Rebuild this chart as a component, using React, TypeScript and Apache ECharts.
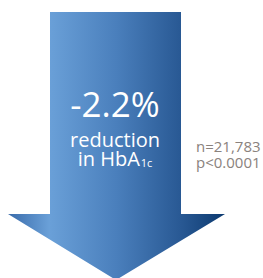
import React, { useEffect, useRef } from "react";
import * as echarts from "echarts";

const headline: string[] = ["-2.2%"];
const captionLines: string[] = ["reduction", "in HbA"];
const subscript: string[] = ["1c"];
const statLines: string[] = ["n=21,783", "p<0.0001"];

export default function App() {
  const ref = useRef<HTMLDivElement>(null);
  useEffect(() => {
    if (!ref.current) return;
    const chart = echarts.init(ref.current, null, { renderer: "svg" });
    const font = "'Open Sans', 'Noto Sans', sans-serif";
    chart.setOption({
      animation: false,
      backgroundColor: "#ffffff",
      graphic: [
        {
          type: "polygon",
          shape: {
            points: [
              [50, 12],
              [181, 12],
              [181, 214],
              [225, 214],
              [116, 280],
              [8, 214],
              [50, 214],
            ],
          },
          style: {
            fill: new echarts.graphic.LinearGradient(0, 0, 1, 0, [
              { offset: 0, color: "#3a6cab" },
              { offset: 0.19, color: "#6aa0d8" },
              { offset: 0.5, color: "#4a7fbc" },
              { offset: 0.8, color: "#285893" },
              { offset: 1, color: "#0c3a70" },
            ]),
          },
        },
        {
          type: "text",
          x: 115,
          y: 77.5,
          style: {
            text: `{h|${headline[0]}}\n{c|${captionLines[0]}}\n{c|${captionLines[1]}}{s|${subscript[0]}}`,
            rich: {
              h: {
                fontSize: 35,
                fontFamily: font,
                fill: "#ffffff",
                lineHeight: 52,
              },
              c: {
                fontSize: 20,
                fontFamily: font,
                fill: "#ffffff",
                lineHeight: 19,
              },
              s: {
                fontSize: 11,
                fontFamily: font,
                fill: "#ffffff",
                lineHeight: 19,
                verticalAlign: "bottom",
                padding: [0, 0, 0, 1],
              },
            },
            fill: "#ffffff",
            textAlign: "center",
            textVerticalAlign: "top",
          },
        },
        {
          type: "text",
          x: 196,
          y: 137.5,
          style: {
            text: `{a|${statLines[0]}}\n{a|${statLines[1]}}`,
            rich: {
              a: {
                fontSize: 15,
                fontFamily: font,
                fill: "#8a827d",
                lineHeight: 16.5,
              },
            },
            textAlign: "left",
            textVerticalAlign: "top",
          },
        },
      ],
    });
    return () => chart.dispose();
  }, []);
  return (
    <div
      ref={ref}
      style={{ position: "fixed", left: 0, top: 0, width: 263, height: 278 }}
    />
  );
}
